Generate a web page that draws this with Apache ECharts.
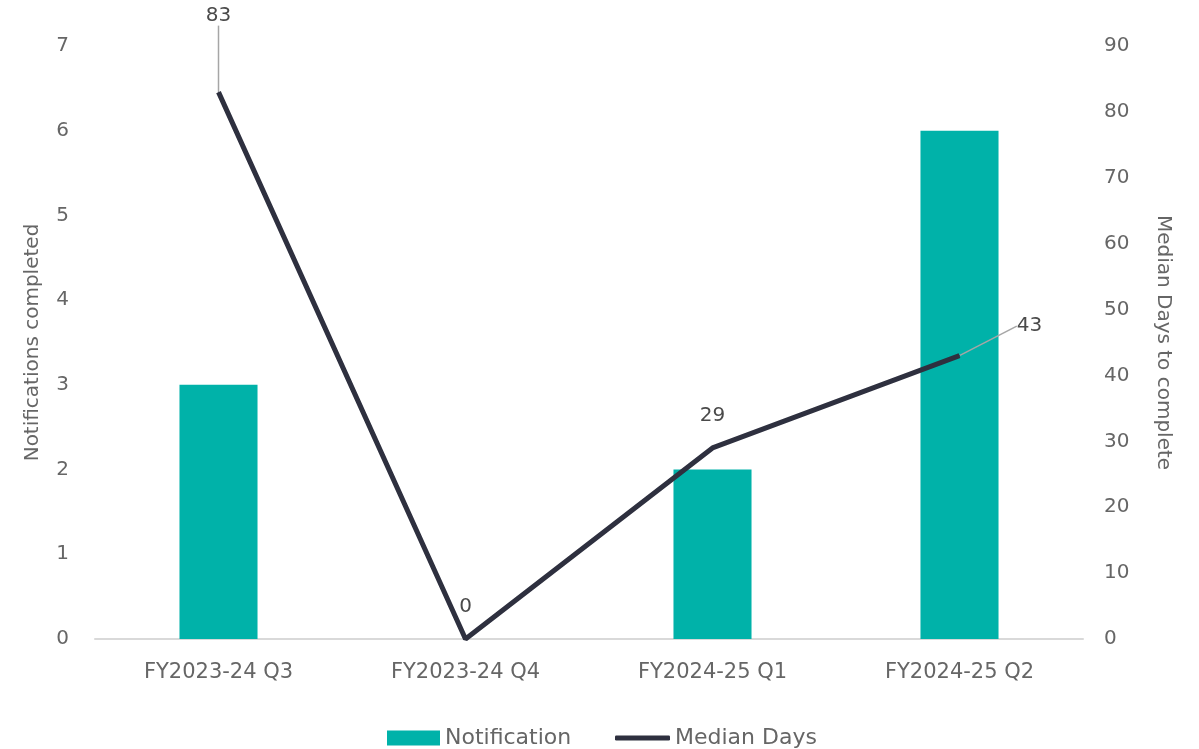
<!DOCTYPE html>
<html>
<head>
<meta charset="utf-8">
<script src="https://cdn.jsdelivr.net/npm/echarts@6/dist/echarts.min.js"></script>
<style>html,body{margin:0;padding:0;background:#fff}#c{width:1199px;height:749px}</style>
</head>
<body>
<div id="c"></div>
<script>
const categories = ['FY2023-24 Q3', 'FY2023-24 Q4', 'FY2024-25 Q1', 'FY2024-25 Q2'];
const notifications = [3, 0, 2, 6];
const medianDays = [83, 0, 29, 43];
const leftTicks = [0, 1, 2, 3, 4, 5, 6, 7];
const rightTicks = [0, 10, 20, 30, 40, 50, 60, 70, 80, 90];

const FONT = '"DejaVu Sans", sans-serif';
const GREY = '#666666';
const chart = echarts.init(document.getElementById('c'));
const labelMoves = [[0, -44], [0, 0], [0, 0], [70, 3]];
const lineData = medianDays.map(function (v, i) {
  const m = labelMoves[i];
  return { value: v, labelLine: { show: m[0] !== 0 || m[1] !== 0 } };
});
chart.setOption({
  animation: false,
  textStyle: { fontFamily: FONT },
  grid: { left: 95, right: 116, top: 46, bottom: 110 },
  legend: [{
    left: 382, top: 722,
    textStyle: { fontSize: 22, color: GREY, fontFamily: FONT },
    data: [{ name: 'Notification', icon: 'rect' }],
    itemWidth: 53, itemHeight: 15, itemGap: 4
  }, {
    left: 610, top: 722,
    textStyle: { fontSize: 22, color: GREY, fontFamily: FONT },
    data: [{ name: 'Median Days', icon: 'roundRect', itemStyle: { color: '#2e303f' } }],
    itemWidth: 55, itemHeight: 5, itemGap: 4
  }],
  xAxis: {
    type: 'category', data: categories,
    axisLine: { lineStyle: { color: '#d9d9d9', width: 2 } },
    axisTick: { show: false },
    axisLabel: { fontSize: 21, color: GREY, margin: 23, fontFamily: FONT }
  },
  yAxis: [{
    type: 'value', min: leftTicks[0], max: leftTicks[leftTicks.length - 1], interval: 1,
    name: 'Notifications completed', nameLocation: 'middle', nameGap: 52,
    nameTextStyle: { fontSize: 20, color: GREY, fontFamily: FONT },
    splitLine: { show: false }, axisLine: { show: false }, axisTick: { show: false },
    axisLabel: { fontSize: 20, color: GREY, margin: 26, fontFamily: FONT }
  }, {
    type: 'value', min: rightTicks[0], max: rightTicks[rightTicks.length - 1], interval: 10,
    name: 'Median Days to complete', nameLocation: 'middle', nameGap: 70, nameRotate: -90,
    nameTextStyle: { fontSize: 20, color: GREY, fontFamily: FONT },
    splitLine: { show: false }, axisLine: { show: false }, axisTick: { show: false },
    axisLabel: { fontSize: 20, color: GREY, margin: 21, fontFamily: FONT }
  }],
  series: [{
    name: 'Notification', type: 'bar', data: notifications, yAxisIndex: 0,
    barWidth: '31.6%', itemStyle: { color: '#00b2a9' }
  }, {
    name: 'Median Days', type: 'line', data: lineData, yAxisIndex: 1,
    symbol: 'circle', symbolSize: 1, showSymbol: true,
    lineStyle: { color: '#2e303f', width: 5 },
    itemStyle: { color: '#2e303f' },
    label: { show: true, position: 'top', distance: 22, fontSize: 20, color: '#4a4a4a', fontFamily: FONT },
    labelLine: { lineStyle: { color: '#a6a6a6', width: 1.5 } },
    labelLayout: function (p) {
      const m = labelMoves[p.dataIndex];
      return { dx: m[0], dy: m[1] };
    }
  }]
});
</script>
</body>
</html>
